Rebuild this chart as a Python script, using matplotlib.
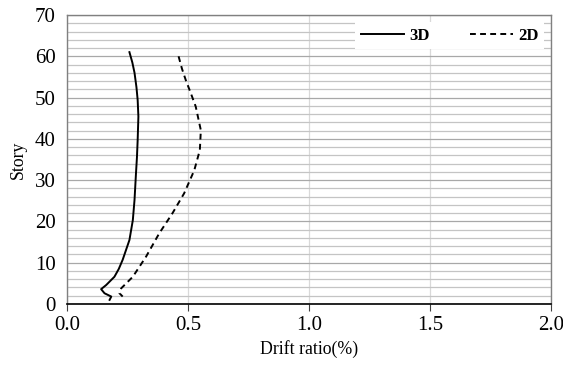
import matplotlib
matplotlib.use("Agg")
import matplotlib.pyplot as plt
from matplotlib.ticker import MultipleLocator

plt.rcParams['font.family'] = ['Liberation Serif', 'DejaVu Serif']

story_3d = [61, 58.5, 56, 52.5, 49.4, 45.4, 39.7, 35.5, 31.6, 25.2, 20.3, 15.5, 10.7, 8.5, 6.6, 4.6, 3.6, 2.6, 1.8, 1.0]
drift_3d = [0.258, 0.27, 0.279, 0.287, 0.292, 0.295, 0.292, 0.289, 0.285, 0.279, 0.272, 0.258, 0.23, 0.214, 0.196, 0.162, 0.141, 0.155, 0.183, 0.176]

story_2d = [60, 57, 54.2, 51, 47.8, 42.1, 37.3, 32.4, 26.8, 22, 17.1, 11.5, 6.6, 3.8, 2.6, 1.8]
drift_2d = [0.461, 0.475, 0.491, 0.512, 0.532, 0.553, 0.549, 0.526, 0.484, 0.436, 0.381, 0.327, 0.272, 0.224, 0.217, 0.23]

x_ticks = [0.0, 0.5, 1.0, 1.5, 2.0]
y_ticks = [0, 10, 20, 30, 40, 50, 60, 70]

fig = plt.figure(figsize=(5.63, 3.72), dpi=100)
ax = fig.add_axes([67/563, 1-304/372, (551-67)/563, (304-15)/372])

ax.plot(drift_3d, story_3d, color='black', lw=1.4, ls='-', label='3D')
ax.plot(drift_2d, story_2d, color='black', lw=1.4, ls=(0, (3, 2.2)), label='2D')

ax.set_xlim(0, 2.0)
ax.set_ylim(0, 70)
ax.set_xticks(x_ticks)
ax.set_xticklabels([f"{v:.1f}" for v in x_ticks])
ax.set_yticks(y_ticks)
ax.yaxis.set_minor_locator(MultipleLocator(2))
ax.grid(which='major', axis='y', color='#a8a8a8', lw=0.9)
ax.grid(which='minor', axis='y', color='#c4c4c4', lw=0.9)
ax.grid(which='major', axis='x', color='#d9d9d9', lw=0.9)
ax.set_axisbelow(True)
ax.tick_params(axis='y', which='minor', length=0)
ax.tick_params(axis='both', which='major', labelsize=15, length=5, direction='out', color='#404040')
ax.tick_params(axis='x', which='major', pad=4)
ax.tick_params(axis='y', which='major', length=0, pad=8)

for s in ['top', 'right', 'left']:
    ax.spines[s].set_color('#808080')
    ax.spines[s].set_linewidth(1.0)
ax.spines['bottom'].set_color('black')
ax.spines['bottom'].set_linewidth(1.2)

ax.set_xlabel('Drift ratio(%)', fontsize=12.8, labelpad=3)
ax.set_ylabel('Story', fontsize=12.8, labelpad=6)

leg = ax.legend(loc='upper right', ncol=2, frameon=True, fancybox=False,
                edgecolor='none', facecolor='white', framealpha=1.0,
                prop={'weight': 'bold', 'size': 12}, handlelength=2.6,
                columnspacing=2.4, handletextpad=0.3, borderaxespad=0.4,
                borderpad=0.35)

fig.savefig('out.png', dpi=100)
